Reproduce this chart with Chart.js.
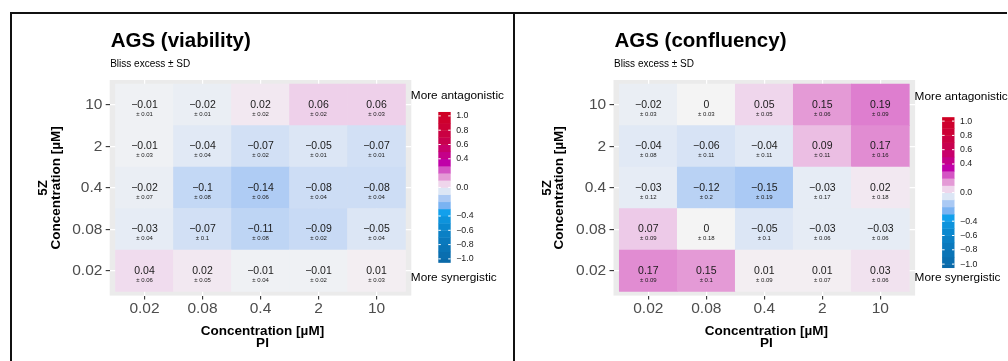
<!DOCTYPE html>
<html>
<head>
<meta charset="utf-8">
<script src="https://cdn.jsdelivr.net/npm/chart.js@4.4.1/dist/chart.umd.min.js"></script>
<style>
  html, body { margin: 0; padding: 0; background: #fff; }
  #wrap { position: relative; width: 1008px; height: 361px; overflow: hidden; }
  canvas { position: absolute; top: 0; }
  .rule { position: absolute; background: #111; }
</style>
</head>
<body>
<div id="wrap">
  <canvas id="viability" width="504" height="361" style="left:0"></canvas>
  <canvas id="confluency" width="504" height="361" style="left:504px"></canvas>
  <div class="rule" style="left:10px;top:12px;width:997px;height:2px"></div>
  <div class="rule" style="left:10px;top:12px;width:2px;height:349px"></div>
  <div class="rule" style="left:513px;top:12px;width:2px;height:349px"></div>
</div>
<script>
// Drug concentrations (µM) on each axis
const piLevels = ['0.02', '0.08', '0.4', '2', '10'];
const z5Levels = ['0.02', '0.08', '0.4', '2', '10'];

// Bliss excess, rows = 5Z level (0.02 → 10), columns = PI level (0.02 → 10)
const viabilityMean = [
  [0.04, 0.02, -0.01, -0.01, 0.01],
  [-0.03, -0.07, -0.11, -0.09, -0.05],
  [-0.02, -0.1, -0.14, -0.08, -0.08],
  [-0.01, -0.04, -0.07, -0.05, -0.07],
  [-0.01, -0.02, 0.02, 0.06, 0.06]
];
const viabilitySd = [
  [0.06, 0.05, 0.04, 0.02, 0.03],
  [0.04, 0.1, 0.08, 0.02, 0.04],
  [0.07, 0.08, 0.06, 0.04, 0.04],
  [0.03, 0.04, 0.02, 0.01, 0.01],
  [0.01, 0.01, 0.02, 0.02, 0.03]
];
const confluencyMean = [
  [0.17, 0.15, 0.01, 0.01, 0.03],
  [0.07, 0, -0.05, -0.03, -0.03],
  [-0.03, -0.12, -0.15, -0.03, 0.02],
  [-0.04, -0.06, -0.04, 0.09, 0.17],
  [-0.02, 0, 0.05, 0.15, 0.19]
];
const confluencySd = [
  [0.09, 0.1, 0.09, 0.07, 0.06],
  [0.09, 0.18, 0.1, 0.06, 0.06],
  [0.12, 0.2, 0.19, 0.17, 0.18],
  [0.08, 0.11, 0.11, 0.11, 0.16],
  [0.03, 0.03, 0.05, 0.06, 0.09]
];

// Colour bar labels
const legendTicks = [1, 0.8, 0.6, 0.4, 0, -0.4, -0.6, -0.8, -1];

// Diverging fill: blue = synergy, magenta/red = antagonism
const fillStops = [
  [-1.1, '#0a66a4'], [-0.7, '#0a7cc0'], [-0.5, '#0a8cd4'], [-0.35, '#12a0ec'],
  [-0.25, '#7ab3f2'], [-0.15, '#aac9f4'], [-0.05, '#dce6f5'], [0, '#f4f4f4'],
  [0.05, '#efd6ec'], [0.15, '#e49ad6'], [0.25, '#d455c4'], [0.35, '#c000a8'],
  [0.5, '#c8007a'], [0.65, '#c8004e'], [0.85, '#cc0035'], [1.1, '#d00020']
];

const FONT = "'Liberation Sans', Arial, Helvetica, sans-serif";
const fmt = v => String(v).replace('-', '\u2212');

function hexRgb(h) {
  const n = parseInt(h.slice(1), 16);
  return [(n >> 16) & 255, (n >> 8) & 255, n & 255];
}
function fillFor(v) {
  const s = fillStops;
  if (v <= s[0][0]) return s[0][1];
  for (let i = 1; i < s.length; i++) {
    if (v <= s[i][0]) {
      const t = (v - s[i - 1][0]) / (s[i][0] - s[i - 1][0]);
      const a = hexRgb(s[i - 1][1]), b = hexRgb(s[i][1]);
      const c = a.map((x, k) => Math.round(x + (b[k] - x) * t));
      return `rgb(${c[0]},${c[1]},${c[2]})`;
    }
  }
  return s[s.length - 1][1];
}

// Panel background, cell labels, titles and the colour bar
function decor(p) {
  return {
    id: 'decor',
    beforeDraw(chart) {
      const { ctx, chartArea: a } = chart;
      ctx.save();
      ctx.fillStyle = '#ebebeb';
      ctx.fillRect(a.left, a.top, a.right - a.left, a.bottom - a.top);
      ctx.restore();
    },
    afterDatasetsDraw(chart) {
      const { ctx, scales: { x, y } } = chart;
      ctx.save();
      ctx.textAlign = 'center';
      ctx.textBaseline = 'middle';
      ctx.fillStyle = '#1a1a1a';
      p.mean.forEach((row, r) => row.forEach((v, c) => {
        const px = x.getPixelForValue(c), py = y.getPixelForValue(r);
        ctx.font = `10.5px ${FONT}`;
        ctx.fillText(fmt(v), px, py);
        ctx.font = `6px ${FONT}`;
        ctx.fillText('\u00b1 ' + p.sd[r][c], px, py + 9.5);
      }));
      ctx.restore();
    },
    afterDraw(chart) {
      const { ctx, chartArea: a } = chart;
      ctx.save();
      ctx.fillStyle = '#000';
      ctx.textAlign = 'left';
      ctx.textBaseline = 'alphabetic';
      ctx.font = `bold 20.5px ${FONT}`;
      ctx.fillText(p.title, a.left + 1, 47);
      ctx.font = `10px ${FONT}`;
      ctx.fillText('Bliss excess \u00b1 SD', a.left + 0.5, 66.5);

      // axis titles
      ctx.font = `bold 13.5px ${FONT}`;
      ctx.textAlign = 'center';
      const cx = (a.left + a.right) / 2 + 2;
      ctx.fillText('Concentration [\u00b5M]', cx, 334.7);
      ctx.fillText('PI', cx, 347.3);
      const cy = (a.top + a.bottom) / 2;
      ctx.save();
      ctx.translate(a.left - 63, cy);
      ctx.rotate(-Math.PI / 2);
      ctx.fillText('5Z', 0, 0);
      ctx.restore();
      ctx.save();
      ctx.translate(a.left - 50.2, cy);
      ctx.rotate(-Math.PI / 2);
      ctx.fillText('Concentration [\u00b5M]', 0, 0);
      ctx.restore();

      // colour bar
      ctx.textAlign = 'left';
      ctx.textBaseline = 'middle';
      ctx.font = `11.8px ${FONT}`;
      ctx.fillText('More antagonistic', a.right - 0.5, p.topNoteY);
      ctx.fillText('More synergistic', a.right - 0.5, 277.3);
      const barL = a.right + 27, barW = 12.4, unit = 71.5, lim = 1.055;
      const yOf = v => p.zeroY - v * unit;
      for (let k = -11; k < 11; k++) {
        const lo = Math.max(k / 10, -lim), hi = Math.min((k + 1) / 10, lim);
        if (hi <= lo) continue;
        ctx.fillStyle = fillFor((k + 0.5) / 10);
        ctx.fillRect(barL, yOf(hi), barW, yOf(lo) - yOf(hi) + (k > -11 ? 0.4 : 0));
      }
      ctx.strokeStyle = '#fff';
      ctx.lineWidth = 1;
      ctx.fillStyle = '#1a1a1a';
      ctx.font = `8.8px ${FONT}`;
      legendTicks.forEach(t => {
        const ty = yOf(t);
        ctx.beginPath();
        ctx.moveTo(barL, ty); ctx.lineTo(barL + 2.5, ty);
        ctx.moveTo(barL + barW - 2.5, ty); ctx.lineTo(barL + barW, ty);
        ctx.stroke();
        ctx.fillText(fmt(t.toFixed(1)), barL + barW + 5.5, ty);
      });
      ctx.restore();
    }
  };
}

function heatmap(id, p) {
  const datasets = z5Levels.map((_, r) => ({
    data: piLevels.map((_, c) => ({ x: c, y: [r - 0.5, r + 0.5] })),
    backgroundColor: piLevels.map((_, c) => fillFor(p.mean[r][c])),
    borderWidth: 0,
    barPercentage: 1,
    categoryPercentage: 1,
    grouped: false
  }));
  const tickFont = { family: FONT, size: 15.5 };
  const grid = { color: '#ffffff', lineWidth: 1.2, tickColor: '#333333', tickWidth: 1.1, tickLength: 4, offset: false };
  return new Chart(document.getElementById(id), {
    type: 'bar',
    data: { datasets },
    options: {
      responsive: false,
      animation: false,
      events: [],
      layout: { padding: { left: 0, top: 80, right: p.padRight, bottom: 0 } },
      plugins: { legend: { display: false }, tooltip: { enabled: false } },
      scales: {
        x: {
          type: 'linear', min: -0.6, max: 4.6, offset: false,
          afterBuildTicks: s => { s.ticks = piLevels.map((_, i) => ({ value: i })); },
          afterFit: s => { s.height = 361 - 295.6; },
          ticks: { callback: v => piLevels[v], font: tickFont, color: '#4d4d4d', padding: 0, maxRotation: 0, autoSkip: false },
          grid, border: { display: false }
        },
        y: {
          type: 'linear', min: -0.6, max: 4.6, offset: false,
          afterBuildTicks: s => { s.ticks = z5Levels.map((_, i) => ({ value: i })); },
          afterFit: s => { s.width = p.plotLeft; },
          ticks: { callback: v => z5Levels[v], font: tickFont, color: '#4d4d4d', padding: 3.3, autoSkip: false },
          grid, border: { display: false }
        }
      }
    },
    plugins: [decor(p)]
  });
}

heatmap('viability', {
  title: 'AGS (viability)', mean: viabilityMean, sd: viabilitySd,
  plotLeft: 109.7, padRight: 92.7, zeroY: 187.4, topNoteY: 96
});
heatmap('confluency', {
  title: 'AGS (confluency)', mean: confluencyMean, sd: confluencySd,
  plotLeft: 109.5, padRight: 92.9, zeroY: 192.6, topNoteY: 96.7
});
</script>
</body>
</html>
